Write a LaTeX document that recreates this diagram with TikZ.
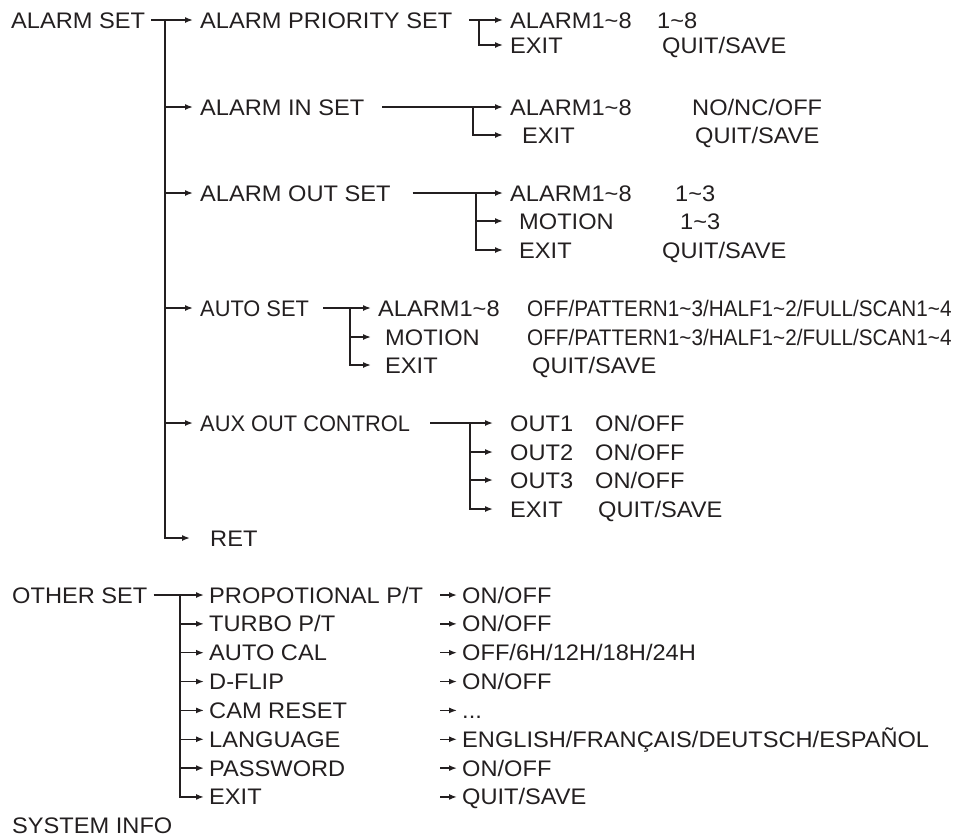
\documentclass[tikz,border=0pt]{standalone}
\usepackage{fontspec}
\setmainfont[FakeStretch=1.05]{Liberation Sans}
\newfontfamily\condfont[FakeStretch=0.97]{Liberation Sans}
\newfontfamily\tightfont[FakeStretch=0.92]{Liberation Sans}
\usepackage{xcolor}
\usepackage{tikz}
\usetikzlibrary{arrows.meta,positioning,calc}
\definecolor{ink}{HTML}{231F20}
\newcommand{\tld}{\textasciitilde}

\begin{document}
\begin{tikzpicture}[x=1pt,y=-1pt,
  every node/.style={anchor=base west,inner sep=0pt,text height=16pt,text depth=0pt,
    font=\fontsize{22.5pt}{26pt}\selectfont,text=ink},
  link/.style={draw=ink,line width=1.5pt},
  arr/.style={link,-{Latex[length=8pt,width=6pt]},shorten >=7pt}]
  \useasboundingbox (0,0) rectangle (958,836);
  \coordinate (tx) at (165,0);
  \coordinate (g1) at (479,0);
  \coordinate (g2) at (473,0);
  \coordinate (g3) at (476,0);
  \coordinate (g4) at (350,0);
  \coordinate (g5) at (470,0);
  \coordinate (g6) at (180,0);

  \node (alarm) at (11,28) {ALARM SET};
  \node (apri) at (200,28) {ALARM PRIORITY SET};
  \node (ain) at (200,115) {ALARM IN SET};
  \node (aout) at (200,201) {ALARM OUT SET};
  \node (auto) at (200,316) {\condfont AUTO SET};
  \node (aux) at (200,431) {\condfont AUX OUT CONTROL};
  \node (ret) at (210,546) {RET};
  \draw[arr,shorten <=6pt] (alarm.east) -- (apri.west);
  \draw[arr,shorten >=20pt] (alarm.west -| tx) |- (ret.west);
  \foreach \n in {ain,aout,auto,aux}
    \draw[arr] (\n.west -| tx) -- (\n.west);

  % priority
  \node (p1) at (510,28) {ALARM1\tld8};
  \node (p2) at (510,53) {EXIT};
  \node (pv1) at (657,28) {1\tld8};
  \node (pv2) at (662,53) {QUIT/SAVE};
  \draw[arr,shorten <=17pt] (apri.east) -- (p1.west);
  \draw[arr] (p1.west -| g1) |- (p2.west);

  % alarm in
  \node (i1) at (510,115) {ALARM1\tld8};
  \node (i2) at (522,143) {EXIT};
  \node (iv1) at (692,115) {NO/NC/OFF};
  \node (iv2) at (695,143) {QUIT/SAVE};
  \draw[arr,shorten <=18pt] (ain.east) -- (i1.west);
  \draw[arr,shorten >=19pt] (i1.west -| g2) |- (i2.west);

  % alarm out
  \node (o1) at (510,201) {ALARM1\tld8};
  \node (o2) at (519,229) {MOTION};
  \node (o3) at (519,258) {EXIT};
  \node (ov1) at (675,201) {1\tld3};
  \node (ov2) at (680,229) {1\tld3};
  \node (ov3) at (662,258) {QUIT/SAVE};
  \draw[arr,shorten <=22pt] (aout.east) -- (o1.west);
  \draw[arr,shorten >=16pt] (o2.west -| g3) -- (o2.west);
  \draw[arr,shorten >=16pt] (o1.west -| g3) |- (o3.west);

  % auto
  \node (s1) at (378,316) {ALARM1\tld8};
  \node (s2) at (385,345) {MOTION};
  \node (s3) at (385,373) {EXIT};
  \node (sv1) at (527,316) {\tightfont OFF/PATTERN1\tld3/HALF1\tld2/FULL/SCAN1\tld4};
  \node (sv2) at (527,345) {\tightfont OFF/PATTERN1\tld3/HALF1\tld2/FULL/SCAN1\tld4};
  \node (sv3) at (532,373) {QUIT/SAVE};
  \draw[arr,shorten <=14pt] (auto.east) -- (s1.west);
  \draw[arr,shorten >=14pt] (s2.west -| g4) -- (s2.west);
  \draw[arr,shorten >=14pt] (s1.west -| g4) |- (s3.west);

  % aux out
  \node (x1) at (510,431) {OUT1};
  \node (x2) at (510,460) {OUT2};
  \node (x3) at (510,488) {OUT3};
  \node (x4) at (510,517) {EXIT};
  \node (xv1) at (595,431) {ON/OFF};
  \node (xv2) at (595,460) {ON/OFF};
  \node (xv3) at (595,488) {ON/OFF};
  \node (xv4) at (598,517) {QUIT/SAVE};
  \draw[arr,shorten <=20pt,shorten >=17pt] (aux.east) -- (x1.west);
  \foreach \n in {x2,x3}
    \draw[arr,shorten >=17pt] (\n.west -| g5) -- (\n.west);
  \draw[arr,shorten >=17pt] (x1.west -| g5) |- (x4.west);

  % other set
  \node (other) at (12,603) {OTHER SET};
  \foreach [count=\i] \lbl/\val in {{PROPOTIONAL P/T}/{ON/OFF},{TURBO P/T}/{ON/OFF},
      {AUTO CAL}/{OFF/6H/12H/18H/24H},{D-FLIP}/{ON/OFF},{CAM RESET}/{...},
      {LANGUAGE}/{ENGLISH/FRANÇAIS/DEUTSCH/ESPAÑOL},{PASSWORD}/{ON/OFF},{EXIT}/{QUIT/SAVE}}{
    \pgfmathsetmacro{\yy}{603+28.85*(\i-1)}
    \node (m\i) at (209,\yy) {\lbl};
    \node (v\i) at (462,\yy) {\val};
    \coordinate (s\i) at (440,\yy-8);
    \draw[arr,shorten >=5pt] (s\i) -- (v\i.west);
  }
  \draw[arr,shorten <=6pt,shorten >=5pt] (other.east) -- (m1.west);
  \foreach \i in {2,...,7}
    \draw[arr,shorten >=5pt] (m\i.west -| g6) -- (m\i.west);
  \draw[arr,shorten >=5pt] (m1.west -| g6) |- (m8.west);
  \node (sys) at (12,833) {SYSTEM INFO};
\end{tikzpicture}
\end{document}
